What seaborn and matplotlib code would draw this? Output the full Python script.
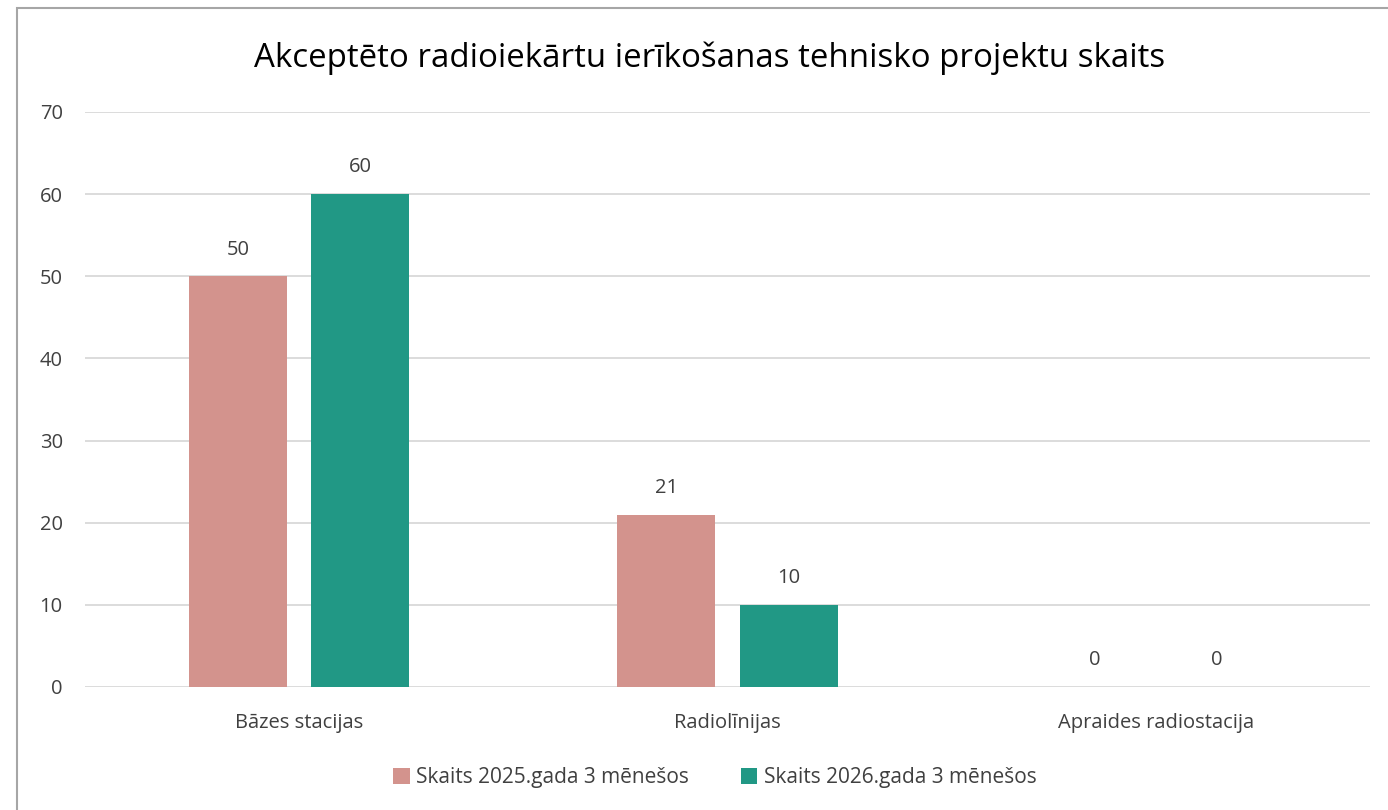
import pandas as pd
import seaborn as sns
import matplotlib.pyplot as plt
from matplotlib.patches import Rectangle

# Data
categories = ['Bāzes stacijas', 'Radiolīnijas', 'Apraides radiostacija']
series = ['Skaits 2025.gada 3 mēnešos', 'Skaits 2026.gada 3 mēnešos']
values_2025 = [50, 21, 0]
values_2026 = [60, 10, 0]
colors = ['#D3938D', '#219885']

df = pd.DataFrame({
    'category': categories * 2,
    'series': [series[0]] * 3 + [series[1]] * 3,
    'value': values_2025 + values_2026,
})

sns.set_style('white')
plt.rcParams['font.family'] = ['Open Sans', 'DejaVu Sans']

fig = plt.figure(figsize=(13.88, 8.10), dpi=100)
ax = fig.add_axes([85 / 1388, 1 - 687 / 810, 1285 / 1388, 575 / 810])

sns.barplot(data=df, x='category', y='value', hue='series', palette=colors,
            saturation=1, width=0.57, gap=0.197, linewidth=0, ax=ax, legend=True)

ax.set_ylim(0, 70)
ax.set_yticks(range(0, 71, 10))
ax.set_xlim(-0.5, 2.5)
ax.grid(axis='y', color='#D9D9D9', linewidth=1.3)
ax.set_axisbelow(True)
for s in ax.spines.values():
    s.set_visible(False)
ax.set_xlabel('')
ax.set_ylabel('')
ax.tick_params(axis='both', length=0, labelsize=14.5, colors='#404040')
ax.tick_params(axis='y', pad=16)
ax.tick_params(axis='x', pad=19)

for c in ax.containers:
    ax.bar_label(c, labels=[f'{v:.0f}' for v in c.datavalues], padding=12,
                 fontsize=14.5, color='#404040')

ax.legend(loc='center', bbox_to_anchor=(0.49, -0.158), ncol=2, frameon=False,
          fontsize=15, handlelength=0.8, handleheight=0.8, columnspacing=2.5,
          handletextpad=0.3, labelcolor='#404040')

fig.text(0.511, 1 - 58 / 810, 'Akceptēto radioiekārtu ierīkošanas tehnisko projektu skaits',
         ha='center', va='center', fontsize=23.8, color='#000000')

fig.patches.append(Rectangle((17 / 1388, -0.1), 1.2, 1 - 8 / 810 + 0.1,
                             transform=fig.transFigure, fill=False,
                             edgecolor='#A6A6A6', linewidth=1.5))

fig.savefig('out.png', dpi=100)
